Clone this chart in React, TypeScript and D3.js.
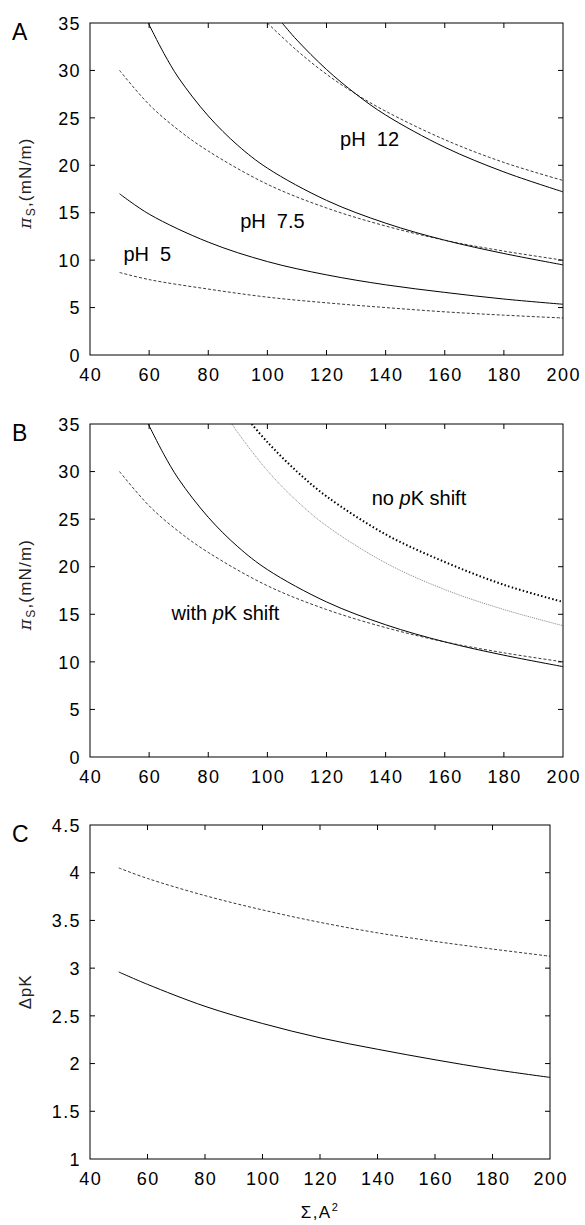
import * as d3 from 'd3';

// x axis: molecular area (A^2)
const SIGMA_TICKS = [40, 60, 80, 100, 120, 140, 160, 180, 200];
const PI_TICKS = [0, 5, 10, 15, 20, 25, 30, 35];
const DPK_TICKS = [1, 1.5, 2, 2.5, 3, 3.5, 4, 4.5];

// panel A
const ph5Sigma = [50, 60, 80, 100, 120, 140, 160, 180, 200];
const ph5Solid = [17.0, 14.85, 11.9, 9.85, 8.45, 7.4, 6.6, 5.9, 5.35];
const ph5Dashed = [8.7, 7.95, 6.95, 6.1, 5.5, 5.0, 4.55, 4.2, 3.9];

const ph75SolidSigma = [59.7, 65, 70, 80, 90, 100, 120, 140, 160, 180, 200];
const ph75Solid = [35, 31.8, 29.2, 25.2, 22.1, 19.7, 16.3, 13.9, 12.1, 10.7, 9.5];
const ph75DashedSigma = [50, 60, 70, 80, 100, 120, 140, 160, 180, 200];
const ph75Dashed = [30.0, 26.4, 23.7, 21.5, 18.0, 15.5, 13.6, 12.1, 10.95, 10.0];

const ph12SolidSigma = [105, 110, 120, 130, 140, 160, 180, 200];
const ph12Solid = [35, 33.2, 30.1, 27.5, 25.3, 21.9, 19.3, 17.2];
const ph12DashedSigma = [100, 110, 120, 130, 140, 160, 180, 200];
const ph12Dashed = [35, 32.1, 29.6, 27.5, 25.7, 22.7, 20.3, 18.4];

// panel B
const noShiftThinSigma = [88, 90, 100, 110, 120, 140, 160, 180, 200];
const noShiftThin = [35, 34.1, 30.1, 26.9, 24.3, 20.4, 17.6, 15.5, 13.8];
const noShiftThickSigma = [94.7, 100, 110, 120, 140, 160, 180, 200];
const noShiftThick = [35, 33.1, 30.0, 27.4, 23.4, 20.5, 18.1, 16.3];

// panel C
const dpkSigma = [50, 60, 80, 100, 120, 140, 160, 180, 200];
const dpkDashed = [4.05, 3.94, 3.76, 3.61, 3.48, 3.37, 3.28, 3.2, 3.125];
const dpkSolid = [2.96, 2.83, 2.6, 2.42, 2.27, 2.15, 2.04, 1.94, 1.855];

const FONT = 'Liberation Sans, Arial, Helvetica, sans-serif';

type Style = 'solid' | 'dashed' | 'thin' | 'thick';
type Series = { sigma: number[]; value: number[]; style: Style };
type Note = { sigma: number; value: number; parts: { t: string; italic?: boolean }[] };

const styleOf = (s: Style) => {
  if (s === 'dashed') return { stroke: '#222', strokeWidth: 0.9, strokeDasharray: '3,2' };
  if (s === 'thin') return { stroke: '#777', strokeWidth: 0.9, strokeDasharray: '1,1' };
  if (s === 'thick') return { stroke: '#000', strokeWidth: 2, strokeDasharray: '1.5,2.3' };
  return { stroke: '#000', strokeWidth: 1 };
};

function Panel(props: {
  id: string;
  letter: string;
  top: number;
  bottom: number;
  right: number;
  yDomain: [number, number];
  yTicks: number[];
  series: Series[];
  notes: Note[];
  yLabel: 'pi' | 'dpk';
}) {
  const { id, letter, top, bottom, right, yDomain, yTicks, series, notes, yLabel } = props;
  const left = 90;
  const x = d3.scaleLinear().domain([40, 200]).range([left, right]);
  const y = d3.scaleLinear().domain(yDomain).range([bottom, top]);
  const line = d3
    .line<[number, number]>()
    .x(d => x(d[0]))
    .y(d => y(d[1]))
    .curve(d3.curveCatmullRom.alpha(0.5));
  const tl = 5;
  const midY = (top + bottom) / 2;

  return (
    <g fontFamily={FONT}>
      <defs>
        <clipPath id={id}>
          <rect x={left} y={top} width={right - left} height={bottom - top} />
        </clipPath>
      </defs>
      <text x={12} y={top + 11} fontSize={23} dominantBaseline="middle">
        {letter}
      </text>
      {yLabel === 'pi' ? (
        <text transform={`translate(31,${midY - 6}) rotate(-90)`} textAnchor="middle" fontSize={17}
          letterSpacing={1.2} fill="#222">
          <tspan fontFamily="DejaVu Serif, serif" fontStyle="italic">π</tspan>
          <tspan fontSize={12} dy={4}>S</tspan>
          <tspan dy={-4}>,(mN/m)</tspan>
        </text>
      ) : (
        <text transform={`translate(31,${midY}) rotate(-90)`} textAnchor="middle" fontSize={17}
          fill="#222" letterSpacing={0.8}>
          ΔpK
        </text>
      )}
      <g clipPath={`url(#${id})`} fill="none">
        {series.map((s, i) => (
          <path
            key={i}
            d={line(s.sigma.map((v, j) => [v, s.value[j]] as [number, number])) || ''}
            {...styleOf(s.style)}
          />
        ))}
      </g>
      {notes.map((n, i) => (
        <text key={i} x={x(n.sigma)} y={y(n.value)} fontSize={20} style={{ whiteSpace: 'pre' }}>
          {n.parts.map((p, j) => (
            <tspan key={j} fontStyle={p.italic ? 'italic' : 'normal'}>
              {p.t}
            </tspan>
          ))}
        </text>
      ))}
      <g stroke="#000" strokeWidth={1}>
        {SIGMA_TICKS.slice(1, -1).map(t => (
          <g key={t}>
            <line x1={x(t)} x2={x(t)} y1={bottom} y2={bottom - tl} />
            <line x1={x(t)} x2={x(t)} y1={top} y2={top + tl} />
          </g>
        ))}
        {yTicks.slice(1, -1).map(t => (
          <g key={t}>
            <line x1={left} x2={left + tl} y1={y(t)} y2={y(t)} />
            <line x1={right} x2={right - tl} y1={y(t)} y2={y(t)} />
          </g>
        ))}
        <rect x={left} y={top} width={right - left} height={bottom - top} fill="none" />
      </g>
      {yTicks.map(t => (
        <text key={t} x={81} y={y(t) + 2} fontSize={18} letterSpacing={1.4} textAnchor="end"
          dominantBaseline="middle">
          {String(t)}
        </text>
      ))}
      {SIGMA_TICKS.map(t => (
        <text key={t} x={x(t) + 0.7} y={bottom + 26} fontSize={18} letterSpacing={1.4} textAnchor="middle">
          {String(t)}
        </text>
      ))}
    </g>
  );
}

export default function App() {
  const seriesA: Series[] = [
    { sigma: ph5Sigma, value: ph5Solid, style: 'solid' },
    { sigma: ph5Sigma, value: ph5Dashed, style: 'dashed' },
    { sigma: ph75SolidSigma, value: ph75Solid, style: 'solid' },
    { sigma: ph75DashedSigma, value: ph75Dashed, style: 'dashed' },
    { sigma: ph12SolidSigma, value: ph12Solid, style: 'solid' },
    { sigma: ph12DashedSigma, value: ph12Dashed, style: 'dashed' },
  ];
  const seriesB: Series[] = [
    { sigma: ph75SolidSigma, value: ph75Solid, style: 'solid' },
    { sigma: ph75DashedSigma, value: ph75Dashed, style: 'dashed' },
    { sigma: noShiftThinSigma, value: noShiftThin, style: 'thin' },
    { sigma: noShiftThickSigma, value: noShiftThick, style: 'thick' },
  ];
  const seriesC: Series[] = [
    { sigma: dpkSigma, value: dpkDashed, style: 'dashed' },
    { sigma: dpkSigma, value: dpkSolid, style: 'solid' },
  ];
  const notesA: Note[] = [
    { sigma: 124.6, value: 22.0, parts: [{ t: 'pH  12' }] },
    { sigma: 90.8, value: 13.4, parts: [{ t: 'pH  7.5' }] },
    { sigma: 51.3, value: 9.9, parts: [{ t: 'pH  5' }] },
  ];
  const notesB: Note[] = [
    { sigma: 135.3, value: 26.5, parts: [{ t: 'no ' }, { t: 'p', italic: true }, { t: 'K shift' }] },
    { sigma: 67.6, value: 14.4, parts: [{ t: 'with ' }, { t: 'p', italic: true }, { t: 'K shift' }] },
  ];

  return (
    <svg
      width={585}
      height={1225}
      style={{ position: 'absolute', left: 0, top: 0, background: '#fff' }}
    >
      <Panel id="clipA" letter="A" top={23} bottom={355} right={563} yDomain={[0, 35]} yTicks={PI_TICKS}
        series={seriesA} notes={notesA} yLabel="pi" />
      <Panel id="clipB" letter="B" top={424} bottom={757} right={563} yDomain={[0, 35]} yTicks={PI_TICKS}
        series={seriesB} notes={notesB} yLabel="pi" />
      <Panel id="clipC" letter="C" top={825} bottom={1159} right={550} yDomain={[1, 4.5]} yTicks={DPK_TICKS}
        series={seriesC} notes={[]} yLabel="dpk" />
      <text x={320} y={1218} fontSize={17} letterSpacing={1.5} textAnchor="middle" fontFamily={FONT}>
        Σ,A<tspan fontSize={11} dy={-7}>2</tspan>
      </text>
    </svg>
  );
}
